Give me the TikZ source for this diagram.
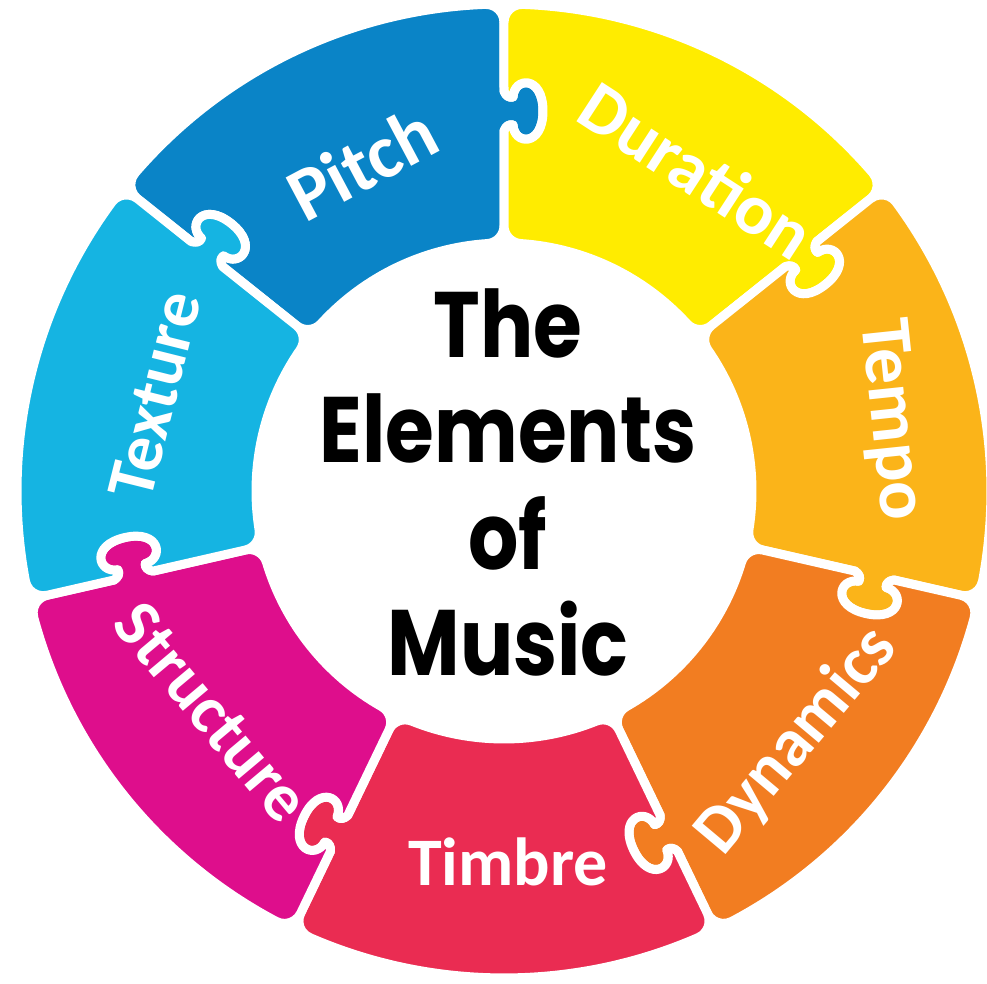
\documentclass[tikz,border=0pt]{standalone}
\usepackage{fontspec}
\setmainfont{Carlito}
\newfontfamily\titlefont{Poppins}
\usetikzlibrary{calc}

\definecolor{cPitch}{RGB}{10,132,199}
\definecolor{cDuration}{RGB}{255,236,0}
\definecolor{cTempo}{RGB}{251,180,25}
\definecolor{cDynamics}{RGB}{242,125,33}
\definecolor{cTimbre}{RGB}{234,44,82}
\definecolor{cStructure}{RGB}{222,14,140}
\definecolor{cTexture}{RGB}{21,180,226}

% ring geometry (1 unit = 1pt)
\def\Ro{487}   % outer radius
\def\Ri{248}   % inner radius
\def\rc{18}    % corner rounding
\def\Rmid{380} % radius of the puzzle tabs

\begin{document}
\begin{tikzpicture}[x=1pt,y=1pt,
  piece/.style={draw=white, line width=9pt, line join=round},
  lbl/.style={text=white, inner sep=0pt,
    font=\fontsize{68}{68}\selectfont\bfseries},
  biglbl/.style={lbl, font=\fontsize{72}{72}\selectfont\bfseries},
  title/.style={text=black, inner sep=0pt, anchor=base,
    font=\titlefont\fontsize{93}{93}\selectfont\bfseries}]

\useasboundingbox (-504,-493) rectangle (483,491);
\fill[white] (-504,-493) rectangle (483,491);

\pgfmathsetmacro\be{180/7}
\pgfmathsetmacro\dO{asin(\rc/(\Ro-\rc))}
\pgfmathsetmacro\eO{(\Ro-\rc)*cos(\dO)}
\pgfmathsetmacro\dI{asin(\rc/(\Ri+\rc))}
\pgfmathsetmacro\eI{(\Ri+\rc)*cos(\dI)}

% each piece: a ring sector with a tab on its clockwise edge
% and a matching socket on its counter-clockwise edge
\foreach \c/\col in {115.714/cPitch, 64.286/cDuration, 12.857/cTempo,
    -38.571/cDynamics, -90/cTimbre, -141.429/cStructure, 167.143/cTexture} {
  \pgfmathsetmacro\a{\c-\be}
  \pgfmathsetmacro\b{\c+\be}
  \foreach \n/\s/\t in {K0/-20/0, c1/-15/2, c2/-13/5, K1/-14/9,
      c3/-34/10, c4/-36/39, K2/0/39, c5/36/39, c6/34/10,
      K3/14/9, c7/13/5, c8/15/2, K4/20/0} {
    \coordinate (\n-a) at ($(\a:{\Rmid+(\s)})+({\a-90}:\t)$);
    \coordinate (\n-b) at ($(\b:{\Rmid+(\s)})+({\b-90}:\t)$);
  }
  \pgfmathsetmacro\aS{\a-90}
  \pgfmathsetmacro\aO{\a+\dO}
  \pgfmathsetmacro\bO{\b-\dO}
  \pgfmathsetmacro\bS{\b+90}
  \pgfmathsetmacro\bI{\b-\dI+180}
  \pgfmathsetmacro\bIr{\b-\dI}
  \pgfmathsetmacro\aIr{\a+\dI}
  \pgfmathsetmacro\aI{\a+\dI+180}
  \pgfmathsetmacro\aE{\a+270}
  \path[fill=\col, piece] (\a:\eI) -- (K0-a)
    .. controls (c1-a) and (c2-a) .. (K1-a)
    .. controls (c3-a) and (c4-a) .. (K2-a)
    .. controls (c5-a) and (c6-a) .. (K3-a)
    .. controls (c7-a) and (c8-a) .. (K4-a)
    -- (\a:\eO)
    arc[start angle=\aS, end angle=\aO, radius=\rc pt]
    arc[start angle=\aO, end angle=\bO, radius=\Ro pt]
    arc[start angle=\bO, end angle=\bS, radius=\rc pt]
    -- (K4-b)
    .. controls (c8-b) and (c7-b) .. (K3-b)
    .. controls (c6-b) and (c5-b) .. (K2-b)
    .. controls (c4-b) and (c3-b) .. (K1-b)
    .. controls (c2-b) and (c1-b) .. (K0-b)
    -- (\b:\eI)
    arc[start angle=\bS, end angle=\bI, radius=\rc pt]
    arc[start angle=\bIr, end angle=\aIr, radius=\Ri pt]
    arc[start angle=\aI, end angle=\aE, radius=\rc pt]
    -- cycle;
}

% segment labels
\node[lbl, rotate=28, font=\fontsize{76}{76}\selectfont\bfseries]
                          (pitch)     at (-142,328) {Pitch};
\node[biglbl, rotate=-33] (duration)  at (193,321)  {Duration};
\node[biglbl, rotate=-84] (tempo)     at (386,71)   {Tempo};
\node[lbl, rotate=50]     (dynamics)  at (293,-250) {Dynamics};
\node[lbl]                (timbre)    at (4,-371)   {Timbre};
\node[lbl, rotate=-50]    (structure) at (-292,-221) {Structure};
\node[lbl, rotate=76]     (texture)   at (-349,96)  {Texture};

% centre title
\node[title] (t1) at (4,133)  {\scalebox{0.85}[1]{The}};
\node[title] (t2) at (4,28)   {\scalebox{0.85}[1]{Elements}};
\node[title] (t3) at (4,-79)  {\scalebox{0.85}[1]{of}};
\node[title] (t4) at (4,-184) {\scalebox{0.85}[1]{Music}};
\end{tikzpicture}
\end{document}
